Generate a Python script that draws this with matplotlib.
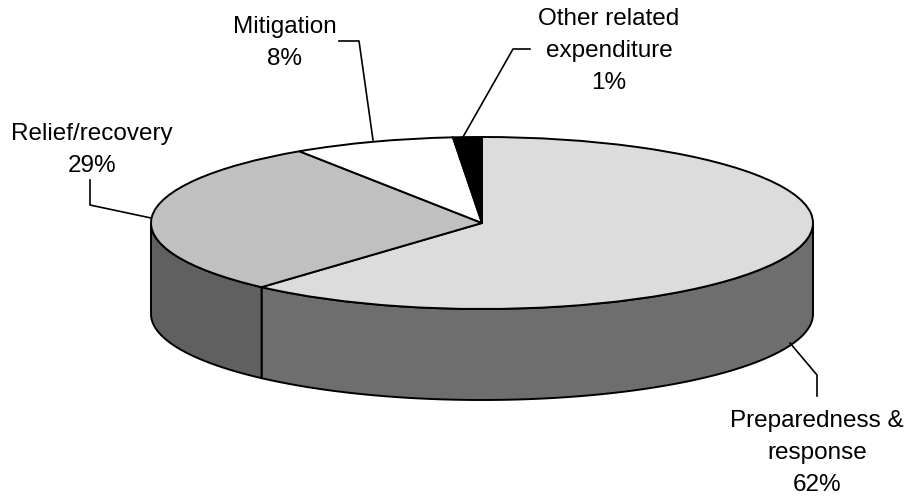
import numpy as np
import matplotlib
matplotlib.use('Agg')
import matplotlib.pyplot as plt
from matplotlib.transforms import Affine2D

categories = ['Preparedness &\nresponse', 'Relief/recovery', 'Mitigation', 'Other related\nexpenditure']
shares = [61.6, 29.1, 7.9, 1.4]
share_labels = ['62%', '29%', '8%', '1%']
top_colors = ['#dcdcdc', '#c0c0c0', '#ffffff', '#000000']
side_colors = ['#6e6e6e', '#606060', '#ffffff', '#000000']

W, H = 911, 497
CX, CY, RX, RY = 482, 223, 331, 86  # ellipse of the top face, in pixels
DEPTH = 91 / RY
LW = 1.4

plt.rcParams['font.family'] = ['Liberation Sans', 'DejaVu Sans']

fig = plt.figure(figsize=(W / 100, H / 100), dpi=100, facecolor='white')
ax = fig.add_axes([0, 0, 1, 1])

wedges, _ = ax.pie(shares, colors=top_colors, startangle=90, counterclock=False, radius=1,
                   wedgeprops={'edgecolor': 'black', 'linewidth': LW, 'zorder': 3})

ax.set_aspect('auto')
ax.set_xlim(-CX / RX, (W - CX) / RX)
ax.set_ylim((CY - H) / RY, CY / RY)

# rim of the disc, only the part facing the viewer
edges = 90 - 360 * np.cumsum([0] + shares) / np.sum(shares)
for a0, a1, col in zip(edges[:-1], edges[1:], side_colors):
    if a0 <= -180 or a1 >= 0:
        continue
    th = np.radians(np.linspace(min(a0, 0), max(a1, -180), 120))
    xs = np.r_[np.cos(th), np.cos(th)[::-1]]
    ys = np.r_[np.sin(th), np.sin(th)[::-1] - DEPTH]
    ax.fill(xs, ys, facecolor=col, edgecolor='black', linewidth=LW, zorder=2)

# pixel coords for labels and leader lines
px = Affine2D().scale(1 / W, -1 / H).translate(0, 1) + fig.transFigure

leaders = [
    ([790, 817, 817], [343, 375, 396]),
    ([90, 90, 151], [180, 205, 218]),
    ([339, 359, 373], [41, 41, 140]),
    ([530, 513, 463], [49, 49, 137]),
]
for xs, ys in leaders:
    ax.plot(xs, ys, color='black', lw=1.2, transform=px, clip_on=False, zorder=4)

label_pos = [(817, 453), (92, 150), (285, 43), (609, 51)]
for cat, pct, (x, y) in zip(categories, share_labels, label_pos):
    ax.text(x, y, cat + '\n' + pct, transform=px, ha='center', va='center',
            fontsize=17.5, linespacing=1.61, color='black')

plt.savefig('out.png', dpi=100)
